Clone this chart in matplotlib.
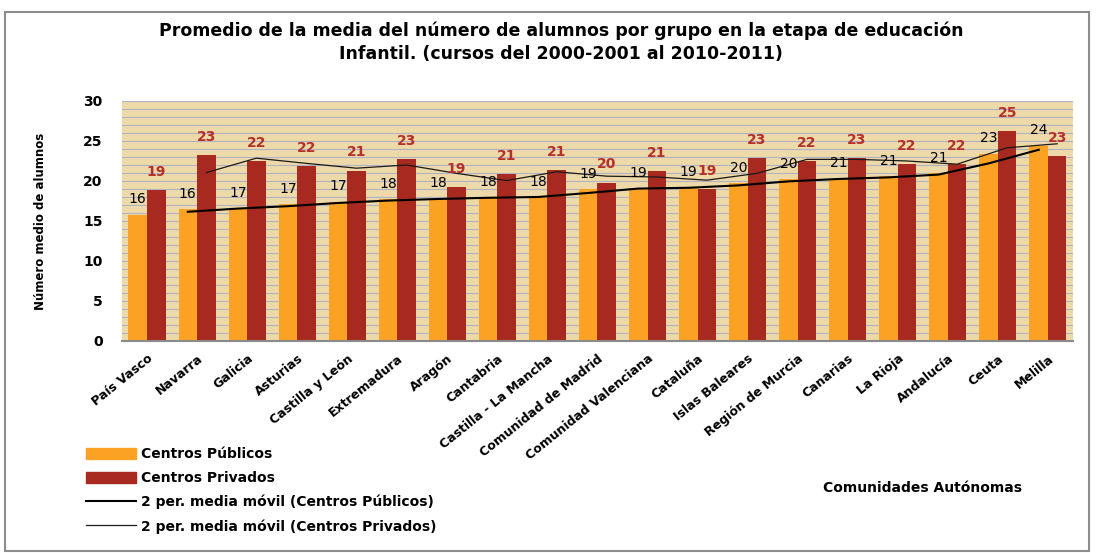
import matplotlib
matplotlib.use("Agg")
import matplotlib.pyplot as plt
from matplotlib.patches import Rectangle, Patch
from matplotlib.lines import Line2D
import numpy as np
import pandas as pd

comunidades = ["País Vasco", "Navarra", "Galicia", "Asturias", "Castilla y León",
               "Extremadura", "Aragón", "Cantabria", "Castilla - La Mancha",
               "Comunidad de Madrid", "Comunidad Valenciana", "Cataluña",
               "Islas Baleares", "Región de Murcia", "Canarias", "La Rioja",
               "Andalucía", "Ceuta", "Melilla"]

publicos = [15.8, 16.5, 16.6, 17.1, 17.4, 17.7, 17.8, 18.0, 18.0, 19.0,
            19.1, 19.2, 19.7, 20.2, 20.3, 20.6, 21.0, 23.4, 24.4]
privados = [18.9, 23.2, 22.5, 21.9, 21.3, 22.7, 19.2, 20.9, 21.4, 19.8,
            21.2, 19.0, 22.9, 22.5, 22.9, 22.1, 22.1, 26.2, 23.1]

etiq_publicos = ["16", "16", "17", "17", "17", "18", "18", "18", "18", "19",
                 "19", "19", "20", "20", "21", "21", "21", "23", "24"]
etiq_privados = ["19", "23", "22", "22", "21", "23", "19", "21", "21", "20",
                 "21", "19", "23", "22", "23", "22", "22", "25", "23"]

naranja = "#FBA124"
rojo = "#A8291F"

fig = plt.figure(figsize=(10.96, 5.53), dpi=100)
ax = fig.add_axes([0.1113, 0.3834, 0.8677, 0.434])

x = np.arange(len(comunidades))
w = 0.37
xp = x - w / 2
xr = x + w / 2

ax.set_facecolor("#EED9A8")
ax.bar(xp, publicos, width=w, color=naranja, zorder=2)
ax.bar(xr, privados, width=w, color=rojo, zorder=2)

# media movil de 2 periodos
mm_pub = pd.Series(publicos).rolling(2).mean()
mm_priv = pd.Series(privados).rolling(2).mean()
ax.plot(xp, mm_pub, color="black", lw=1.5, zorder=3)
ax.plot(xr, mm_priv, color="#1a1a1a", lw=0.9, zorder=3)

for i in range(len(comunidades)):
    ax.annotate(etiq_publicos[i], (xp[i], publicos[i]), xytext=(0, 6),
                textcoords="offset points", ha="center", va="bottom",
                fontsize=10, color="black", zorder=4)
    ax.annotate(etiq_privados[i], (xr[i], privados[i]), xytext=(0, 8),
                textcoords="offset points", ha="center", va="bottom",
                fontsize=10, color="#B5302A", fontweight="bold", zorder=4)

ax.set_xlim(-0.5, len(comunidades) - 0.5)
ax.set_ylim(0, 30)
ax.set_yticks(range(0, 31, 5))
ax.set_yticks(range(0, 31, 1), minor=True)
ax.grid(axis="y", which="both", color="#AEB3C6", lw=0.8, zorder=1)
ax.set_axisbelow(True)
ax.tick_params(axis="y", which="both", length=0, pad=14, labelsize=10)
for lab in ax.get_yticklabels():
    lab.set_fontweight("bold")

ax.set_xticks(x)
ax.set_xticklabels(comunidades, rotation=39, ha="right", rotation_mode="anchor",
                   fontsize=9, fontweight="bold")
ax.tick_params(axis="x", length=0, pad=8)

for s in ["left", "right", "top"]:
    ax.spines[s].set_visible(False)
ax.spines["bottom"].set_color("#8a8a8a")
ax.spines["bottom"].set_linewidth(1.5)

fig.text(0.037, 0.6, "Número medio de alumnos", rotation=90, ha="center",
         va="center", fontsize=8.5, fontweight="bold")

fig.text(0.512, 0.962, "Promedio de la media del número de alumnos por grupo en la etapa de educación\nInfantil. (cursos del 2000-2001 al 2010-2011)",
         ha="center", va="top", fontsize=12.5, fontweight="bold", linespacing=1.4)

fig.text(0.842, 0.117, "Comunidades Autónomas", ha="center", va="center",
         fontsize=10, fontweight="bold")

handles = [Patch(color=naranja), Patch(color=rojo),
           Line2D([], [], color="black", lw=1.5),
           Line2D([], [], color="#1a1a1a", lw=0.9)]
labels = ["Centros Públicos", "Centros Privados",
          "2 per. media móvil (Centros Públicos)",
          "2 per. media móvil (Centros Privados)"]
fig.legend(handles, labels, loc="upper left", bbox_to_anchor=(0.073, 0.201),
           frameon=False, handlelength=3.6, handleheight=0.9,
           labelspacing=0.7, prop={"size": 10, "weight": "bold"},
           borderaxespad=0, handletextpad=0.4)

fig.patches.append(Rectangle((0.005, 0.003), 0.989, 0.975, transform=fig.transFigure,
                             fill=False, edgecolor="#8c8c8c", lw=1.5))

fig.savefig("out.png", dpi=100)
